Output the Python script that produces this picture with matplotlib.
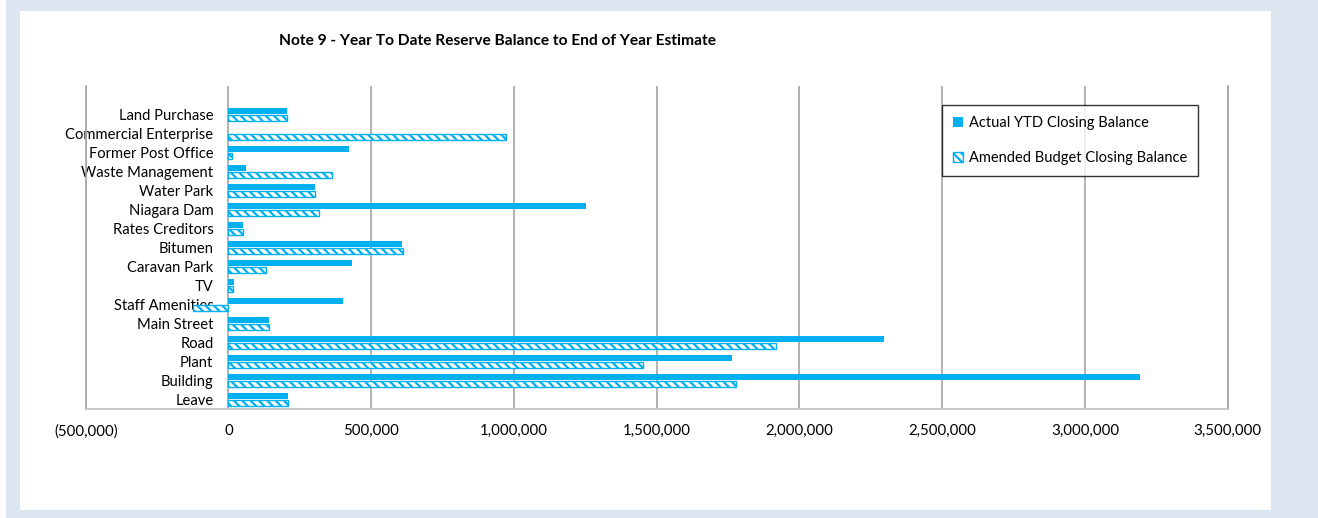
import numpy as np
import matplotlib.pyplot as plt
from matplotlib.patches import Rectangle
from matplotlib.transforms import offset_copy

plt.rcParams['font.family'] = ['Lato', 'DejaVu Sans']
plt.rcParams['hatch.linewidth'] = 1.6

# Kategorien von unten nach oben (wie in Excel)
categories = ['Leave', 'Building', 'Plant', 'Road', 'Main Street', 'Staff Amenities',
              'TV', 'Caravan Park', 'Bitumen', 'Rates Creditors', 'Niagara Dam',
              'Water Park', 'Waste Management', 'Former Post Office',
              'Commercial Enterprise', 'Land Purchase']
actual = [208000, 3192000, 1765000, 2295000, 143000, 400000,
          18000, 432000, 609000, 52000, 1251000,
          303000, 60000, 421000, 0, 205000]
budget = [207000, 1779000, 1452000, 1917000, 143000, -125000,
          16000, 132000, 610000, 52000, 318000,
          304000, 361000, 13000, 971000, 205000]
xticks = [-500000, 0, 500000, 1000000, 1500000, 2000000, 2500000, 3000000, 3500000]
xtick_labels = ['(500,000)', '0', '500,000', '1,000,000', '1,500,000',
                '2,000,000', '2,500,000', '3,000,000', '3,500,000']

blue = '#00b0f0'

fig = plt.figure(figsize=(13.18, 5.18), dpi=100)
fig.patch.set_facecolor('white')
# Rahmen wie im Screenshot
fig.patches.append(Rectangle((6 / 1318, 0), 1 - 6 / 1318, 1, transform=fig.transFigure,
                             facecolor='#dce6f0', edgecolor='none', zorder=-2))
fig.patches.append(Rectangle((20 / 1318, 8 / 518), (1271 - 20) / 1318, (507 - 8) / 518,
                             transform=fig.transFigure, facecolor='white',
                             edgecolor='none', zorder=-1))

ax = fig.add_axes([85.7 / 1318, 1 - 409 / 518, (1227.7 - 85.7) / 1318, (409 - 86) / 518])
ax.set_facecolor('none')

y = np.arange(len(categories))
h = 0.32
ax.barh(y + 0.165, actual, height=h, color=blue, zorder=3)
ax.barh(y - 0.165, budget, height=h, facecolor='white', edgecolor=blue,
        hatch='\\\\\\\\', linewidth=1, zorder=3)

ax.set_xlim(-500000, 3500000)
ax.set_ylim(-0.5, 16.5)
ax.set_xticks(xticks)
ax.set_xticklabels(xtick_labels)
ax.set_yticks([])
ax.tick_params(axis='x', length=0, pad=11, labelsize=10.8)
ax.grid(axis='x', color='#a6a6a6', linewidth=1.2, zorder=0)

ax.spines['top'].set_visible(False)
ax.spines['left'].set_color('#a6a6a6')
ax.spines['right'].set_color('#a6a6a6')
ax.spines['bottom'].set_color('#bfbfbf')
for s in ['left', 'right', 'bottom']:
    ax.spines[s].set_linewidth(1.2)

# Kategorie-Beschriftungen am Nullpunkt
trans = offset_copy(ax.transData, fig=fig, x=-15, y=-1.5, units='dots')
for yi, cat in zip(y, categories):
    ax.text(0, yi, cat, transform=trans, ha='right', va='center', fontsize=10.6, zorder=2)

handles = [Rectangle((0, 0), 1, 1, facecolor=blue, edgecolor='none'),
           Rectangle((0, 0), 1, 1, facecolor='white', edgecolor=blue, hatch='\\\\\\\\')]
leg = ax.legend(handles, ['Actual YTD Closing Balance', 'Amended Budget Closing Balance'],
                loc='upper left', bbox_to_anchor=(942 / 1318, 1 - 105 / 518),
                bbox_transform=fig.transFigure, fontsize=10.5, frameon=True,
                fancybox=False, edgecolor='black', handlelength=0.7, handleheight=0.7,
                handletextpad=0.4, labelspacing=1.45, borderpad=0.75, borderaxespad=0)
leg.get_frame().set_linewidth(1)

fig.text(497 / 1318, 1 - 41 / 518,
         'Note 9 - Year To Date Reserve Balance to End of Year Estimate',
         ha='center', va='center', fontsize=11.2, fontweight='bold')

fig.savefig('out.png', dpi=100)
